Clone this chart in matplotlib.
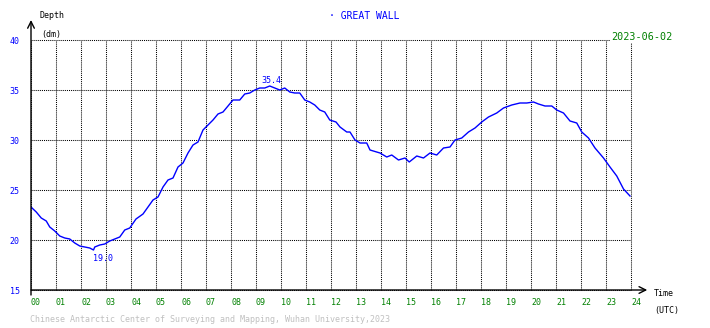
import matplotlib
matplotlib.use("Agg")
import matplotlib.pyplot as plt

# tide record (hour UTC, depth in dm)
hours = [0.00, 0.21, 0.41, 0.61, 0.75, 0.95, 1.15, 1.35, 1.55, 1.75, 1.95, 2.15, 2.35, 2.50,
         2.55, 2.75, 2.95, 3.15, 3.35, 3.55, 3.75, 3.95, 4.20, 4.48, 4.68, 4.88, 5.08, 5.28,
         5.48, 5.68, 5.88, 6.08, 6.28, 6.48, 6.68, 6.88, 7.08, 7.28, 7.48, 7.68, 7.88, 8.08,
         8.35, 8.55, 8.75, 8.95, 9.15, 9.35, 9.55, 9.75, 9.95, 10.15, 10.35, 10.55, 10.75,
         10.95, 11.15, 11.35, 11.55, 11.75, 11.95, 12.20, 12.36, 12.63, 12.76, 12.96, 13.16,
         13.43, 13.56, 13.96, 14.23, 14.43, 14.70, 14.96, 15.13, 15.43, 15.70, 15.96, 16.23,
         16.50, 16.76, 16.96, 17.23, 17.50, 17.76, 18.03, 18.30, 18.63, 18.90, 19.23, 19.56,
         19.83, 20.10, 20.30, 20.56, 20.83, 21.03, 21.30, 21.56, 21.83, 22.03, 22.30, 22.56,
         22.90, 23.16, 23.43, 23.70, 23.96]
depth = [23.3, 22.8, 22.2, 21.9, 21.3, 20.9, 20.4, 20.2, 20.1, 19.7, 19.4, 19.3, 19.2, 19.0,
         19.3, 19.5, 19.6, 19.9, 20.1, 20.3, 21.0, 21.2, 22.1, 22.6, 23.3, 24.0, 24.3, 25.3,
         26.0, 26.2, 27.3, 27.7, 28.7, 29.5, 29.8, 31.0, 31.5, 32.0, 32.6, 32.8, 33.4, 34.0,
         34.0, 34.6, 34.7, 35.0, 35.2, 35.2, 35.4, 35.2, 35.0, 35.2, 34.8, 34.7, 34.7,
         34.0, 33.8, 33.5, 33.0, 32.8, 32.0, 31.8, 31.3, 30.8, 30.8, 30.0, 29.7,
         29.7, 29.0, 28.7, 28.3, 28.5, 28.0, 28.2, 27.8, 28.4, 28.2, 28.7, 28.5,
         29.2, 29.3, 30.0, 30.2, 30.8, 31.2, 31.8, 32.3, 32.7, 33.2, 33.5, 33.7,
         33.7, 33.8, 33.6, 33.4, 33.4, 33.0, 32.7, 31.9, 31.7, 30.8, 30.2, 29.2,
         28.2, 27.3, 26.4, 25.1, 24.4]

x_ticks = list(range(0, 25))
x_labels = [f"{h:02d}" for h in x_ticks]
y_ticks = [15, 20, 25, 30, 35, 40]

station = "· GREAT WALL"
date = "2023-06-02"
credit = "Chinese Antarctic Center of Surveying and Mapping, Wuhan University,2023"

BLUE, GREEN, MONO = "#0000ff", "#008000", "DejaVu Sans Mono"
plt.rcParams["font.family"] = MONO

W, H = 710, 328
fig = plt.figure(figsize=(W / 100, H / 100), dpi=100, facecolor="white")
ax = fig.add_axes([31 / W, (H - 290) / H, 600 / W, 250 / H])
def px(x, y): return x / W, 1 - y / H

ax.plot(hours, depth, color=BLUE, lw=1.0, zorder=3)

ax.set_xlim(0, 24); ax.set_ylim(15, 40)
ax.set_xticks(x_ticks); ax.set_xticklabels(x_labels)
ax.set_yticks(y_ticks); ax.set_yticklabels([str(v) for v in y_ticks])
ax.tick_params(axis="x", length=0, pad=6, labelsize=6, labelcolor=GREEN)
ax.tick_params(axis="y", length=0, pad=8, labelsize=6, labelcolor=BLUE)
for t in ax.get_xticklabels(): t.set_ha("left")
for t in ax.get_yticklabels(): t.set_va("center_baseline")
ax.grid(True, color="black", lw=0.75, ls=(0, (1, 1)))
for ln in ax.get_xgridlines() + ax.get_ygridlines(): ln.set_clip_on(False)
for sp in ("top", "right", "left", "bottom"): ax.spines[sp].set_visible(False)

# axis arrows
ax.annotate("", xy=(0, 42.0), xytext=(0, 14.5), annotation_clip=False,
            arrowprops=dict(arrowstyle="->", lw=1.0, color="black", mutation_scale=12, shrinkA=0, shrinkB=0))
ax.annotate("", xy=(24.65, 15), xytext=(0, 15), annotation_clip=False,
            arrowprops=dict(arrowstyle="->", lw=1.0, color="black", mutation_scale=12, shrinkA=0, shrinkB=0))

# min / max labels
i_min = depth.index(min(depth)); i_max = depth.index(max(depth))
ax.annotate(f"{depth[i_min]:.1f}", (hours[i_min], depth[i_min]), xytext=(0, -3),
            textcoords="offset points", ha="left", va="top", fontsize=6, color=BLUE)
ax.annotate(f"{depth[i_max]:.1f}", (hours[i_max], depth[i_max]), xytext=(-6, 1),
            textcoords="offset points", ha="left", va="bottom", fontsize=6, color=BLUE)

fig.text(*px(40, 16), "Depth", fontsize=6, va="center")
fig.text(*px(41, 34), "(dm)", fontsize=6, va="center")
fig.text(*px(329, 16), station, fontsize=7, color=BLUE, va="center")
fig.text(*px(611, 37), date, fontsize=7.3, color=GREEN, va="center",
         bbox=dict(facecolor="white", edgecolor="none", pad=0.5))
fig.text(*px(654, 294), "Time", fontsize=6, va="center")
fig.text(*px(654, 310), "(UTC)", fontsize=6, va="center")
fig.text(*px(30, 320), credit, fontsize=6, color="#c0c0c0", va="center")

fig.savefig("out.png", dpi=100, facecolor="white")
